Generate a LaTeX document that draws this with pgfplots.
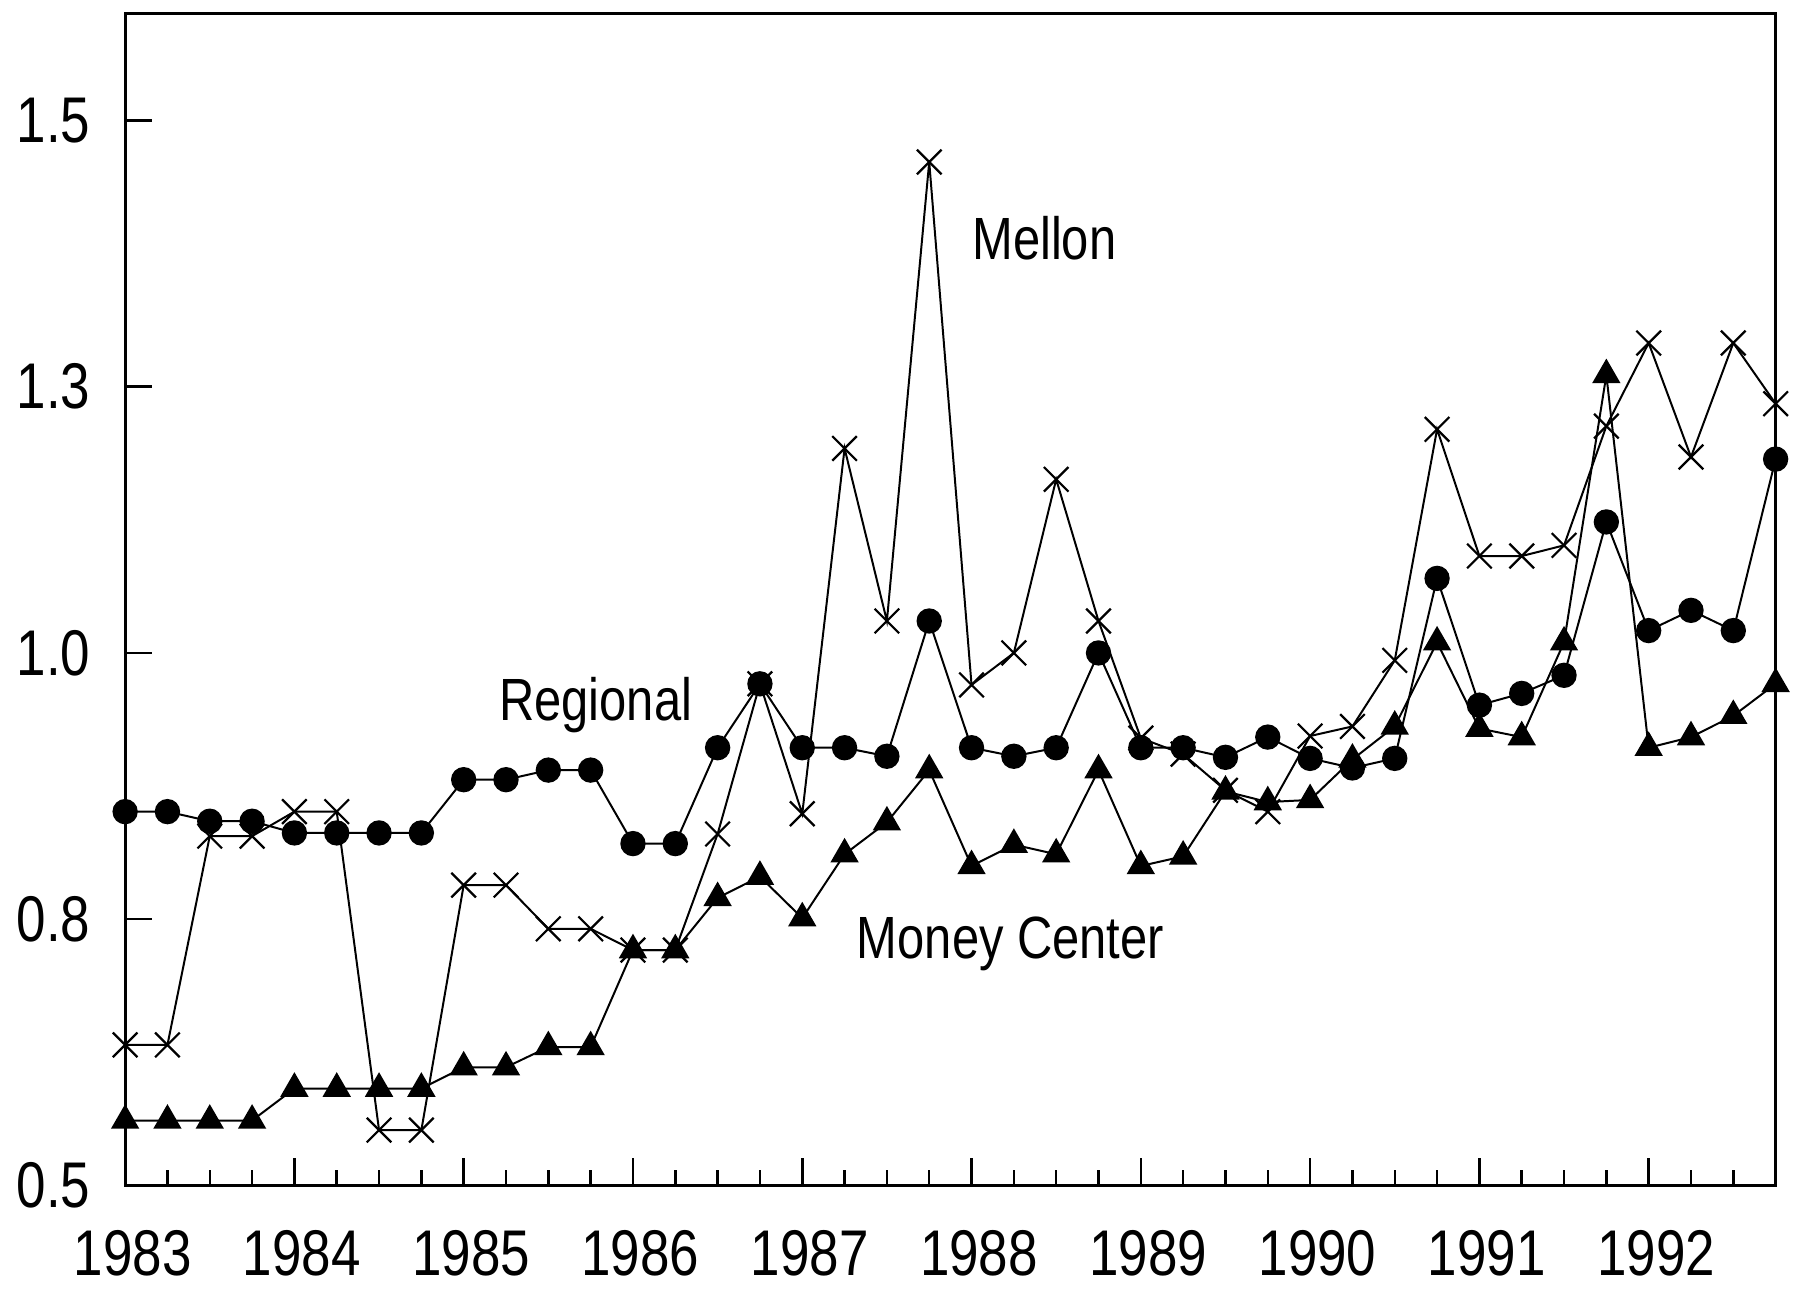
\documentclass[border=0pt]{standalone}
\usepackage{fontspec}
\setmainfont{Liberation Sans}[FakeStretch=0.82]
\usepackage{pgfplots}
\pgfplotsset{compat=1.18}
\usepackage{pgfplotstable}

\pgfplotstableread{
x y
1983.00 0.632
1983.25 0.632
1983.50 0.828
1983.75 0.828
1984.00 0.851
1984.25 0.851
1984.50 0.552
1984.75 0.552
1985.00 0.782
1985.25 0.782
1985.50 0.741
1985.75 0.741
1986.00 0.721
1986.25 0.721
1986.50 0.830
1986.75 0.971
1987.00 0.849
1987.25 1.192
1987.50 1.030
1987.75 1.461
1988.00 0.970
1988.25 1.000
1988.50 1.163
1988.75 1.030
1989.00 0.920
1989.25 0.905
1989.50 0.871
1989.75 0.851
1990.00 0.922
1990.25 0.931
1990.50 0.993
1990.75 1.210
1991.00 1.091
1991.25 1.091
1991.50 1.101
1991.75 1.213
1992.00 1.291
1992.25 1.184
1992.50 1.291
1992.75 1.234
}\mellon

\pgfplotstableread{
x y
1983.00 0.851
1983.25 0.851
1983.50 0.842
1983.75 0.842
1984.00 0.831
1984.25 0.831
1984.50 0.831
1984.75 0.831
1985.00 0.881
1985.25 0.881
1985.50 0.890
1985.75 0.890
1986.00 0.821
1986.25 0.821
1986.50 0.911
1986.75 0.971
1987.00 0.911
1987.25 0.911
1987.50 0.903
1987.75 1.030
1988.00 0.911
1988.25 0.903
1988.50 0.911
1988.75 1.000
1989.00 0.911
1989.25 0.911
1989.50 0.902
1989.75 0.921
1990.00 0.901
1990.25 0.892
1990.50 0.901
1990.75 1.070
1991.00 0.951
1991.25 0.962
1991.50 0.979
1991.75 1.123
1992.00 1.021
1992.25 1.040
1992.50 1.021
1992.75 1.182
}\regional

\pgfplotstableread{
x y
1983.00 0.561
1983.25 0.561
1983.50 0.561
1983.75 0.561
1984.00 0.591
1984.25 0.591
1984.50 0.591
1984.75 0.591
1985.00 0.611
1985.25 0.611
1985.50 0.630
1985.75 0.630
1986.00 0.721
1986.25 0.721
1986.50 0.770
1986.75 0.790
1987.00 0.751
1987.25 0.811
1987.50 0.841
1987.75 0.890
1988.00 0.800
1988.25 0.820
1988.50 0.811
1988.75 0.890
1989.00 0.800
1989.25 0.809
1989.50 0.870
1989.75 0.860
1990.00 0.862
1990.25 0.900
1990.50 0.931
1990.75 1.010
1991.00 0.929
1991.25 0.921
1991.50 1.010
1991.75 1.261
1992.00 0.911
1992.25 0.921
1992.50 0.941
1992.75 0.971
}\money

\begin{document}
\begin{tikzpicture}
\begin{axis}[
  scale only axis,
  width=332.2pt, height=235.8pt,
  xmin=1983, xmax=1992.75,
  ymin=0.5, ymax=1.6,
  clip=false,
  axis line style={line width=0.6pt},
  tick style={line width=0.5pt, black},
  tick align=inside,
  xtick pos=left, ytick pos=left,
  xtick={1983,1984,1985,1986,1987,1988,1989,1990,1991,1992},
  xticklabels={1983,1984,1985,1986,1987,1988,1989,1990,1991,1992},
  minor xtick={1983.25,1983.5,1983.75,1984.25,1984.5,1984.75,1985.25,1985.5,1985.75,1986.25,1986.5,1986.75,1987.25,1987.5,1987.75,1988.25,1988.5,1988.75,1989.25,1989.5,1989.75,1990.25,1990.5,1990.75,1991.25,1991.5,1991.75,1992.25,1992.5},
  ytick={0.5,0.75,1.0,1.25,1.5},
  yticklabels={0.5,0.8,1.0,1.3,1.5},
  major tick length=5.5pt,
  minor tick length=3.2pt,
  ticklabel style={font=\fontsize{13}{15}\selectfont},
  xticklabel style={inner sep=0pt, yshift=-8.8pt, xshift=1.5pt},
  yticklabel style={xshift=-3.5pt},
  /pgf/number format/assume math mode=true,
  every axis plot/.append style={black, line width=0.4pt},
]
\addplot[mark=x, mark size=3.5pt, mark options={line width=0.45pt}] table[x=x,y=y]{\mellon};
\addplot[mark=*, mark size=2.35pt] table[x=x,y=y]{\regional};
\addplot[mark=triangle*, mark size=2.9pt] table[x=x,y=y]{\money};
\node[anchor=base, font=\fontsize{12}{14}\selectfont] at (axis cs:1988.43,1.369) {Mellon};
\node[anchor=base, font=\fontsize{12}{14}\selectfont] at (axis cs:1985.78,0.937) {Regional};
\node[anchor=base, font=\fontsize{12}{14}\selectfont] at (axis cs:1988.23,0.713) {Money Center};
\end{axis}
\path (current axis.south west) ++(-24.6pt,-21pt) coordinate (bbA);
\path (bbA) rectangle ++(361.7pt,259.6pt);
\end{tikzpicture}
\end{document}
